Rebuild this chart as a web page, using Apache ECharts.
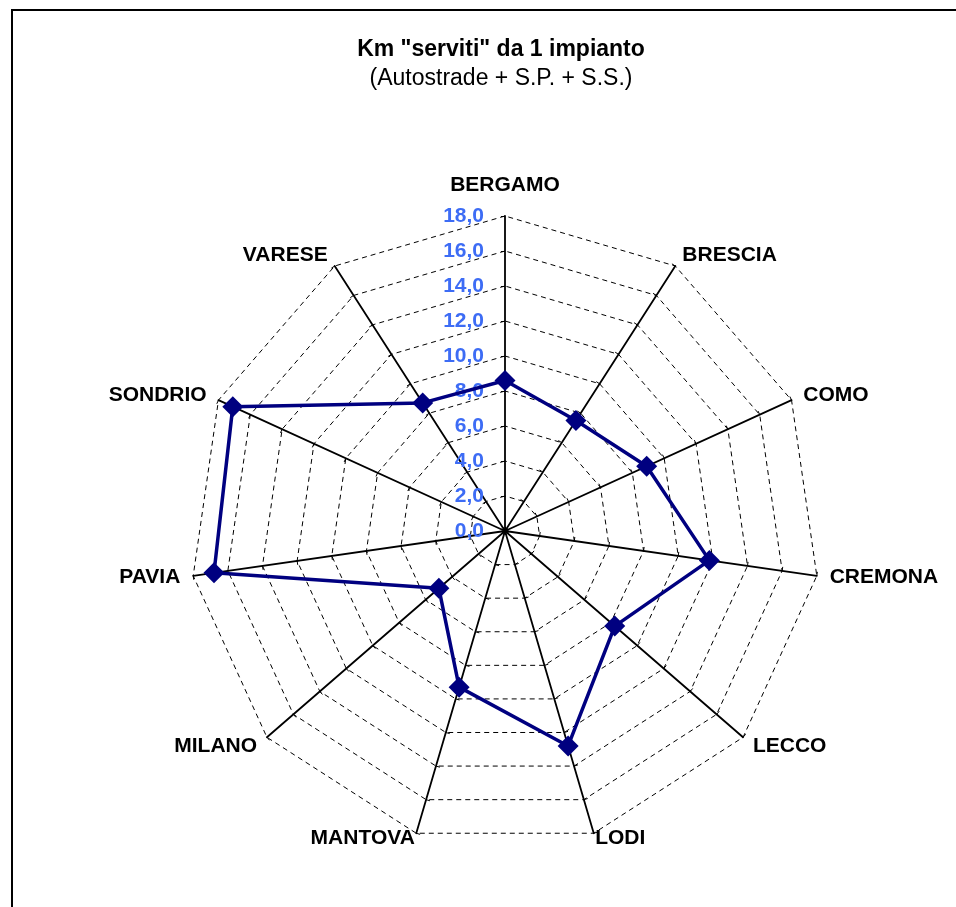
<!DOCTYPE html>
<html>
<head>
<meta charset="utf-8">
<script src="https://cdn.jsdelivr.net/npm/echarts@6/dist/echarts.min.js"></script>
<style>
html, body { margin: 0; padding: 0; background: #fff; }
#chart { width: 956px; height: 907px; }
</style>
</head>
<body>
<div id="chart"></div>
<script>
// province in senso orario partendo dall'alto
var province = ["BERGAMO", "BRESCIA", "COMO", "CREMONA", "LECCO", "LODI",
	"MANTOVA", "MILANO", "PAVIA", "SONDRIO", "VARESE"];
var kmServiti = [8.6, 7.5, 8.9, 11.8, 8.3, 12.8, 9.3, 5.0, 16.8, 17.1, 8.7];
var scalaMax = 18;
var scalaPasso = 2;

// echarts disegna in senso antiorario: giro l'ordine
var ordine = [0];
for (var i = province.length - 1; i > 0; i--) ordine.push(i);

var fontName = "Liberation Sans, Arial, sans-serif";
var distanzaNome = { BERGAMO: 20, MANTOVA: 5, LODI: 5 };

var indicatori = ordine.map(function(i, k) {
	var ind = { name: province[i], min: 0, max: scalaMax };
	if (distanzaNome[province[i]] != null) ind.nameGap = distanzaNome[province[i]];
	if (k == 0) {
		ind.axisLabel = {
			show: true,
			color: "#3d6cf5",
			fontWeight: "bold",
			fontSize: 21,
			fontFamily: fontName,
			margin: 21,
			formatter: function(v) { return v.toFixed(1).replace(".", ","); }
		};
	}
	return ind;
});

var chart = echarts.init(document.getElementById("chart"));
chart.setOption({
	animation: false,
	title: {
		text: 'Km "serviti" da 1 impianto',
		subtext: "(Autostrade + S.P. + S.S.)",
		left: 496,
		top: 33,
		textAlign: "center",
		itemGap: 6,
		textStyle: { fontSize: 23, fontWeight: "bold", color: "#000", fontFamily: fontName },
		subtextStyle: { fontSize: 23, color: "#000", fontFamily: fontName }
	},
	graphic: [
		{ type: "line", shape: { x1: 11, y1: 10, x2: 956, y2: 10 }, style: { stroke: "#000", lineWidth: 2 } },
		{ type: "line", shape: { x1: 12, y1: 10, x2: 12, y2: 907 }, style: { stroke: "#000", lineWidth: 2 } }
	],
	radar: {
		center: [505, 531],
		radius: 315,
		startAngle: 90,
		shape: "polygon",
		splitNumber: scalaMax / scalaPasso,
		indicator: indicatori,
		nameGap: 13,
		axisName: { color: "#000", fontWeight: "bold", fontSize: 21, fontFamily: fontName },
		axisLine: { lineStyle: { color: "#000", width: 1.8 } },
		axisTick: { show: true, length: 4, lineStyle: { color: "#000" } },
		axisLabel: { show: false },
		splitLine: { lineStyle: { color: "#000", width: 1, type: [5, 4] } },
		splitArea: { show: false }
	},
	series: [{
		type: "radar",
		symbol: "path://M0,-1L1,0L0,1L-1,0Z",
		symbolSize: 21,
		lineStyle: { color: "#000080", width: 3.5 },
		itemStyle: { color: "#000080" },
		data: [{ value: ordine.map(function(i) { return kmServiti[i]; }) }]
	}]
});
</script>
</body>
</html>
